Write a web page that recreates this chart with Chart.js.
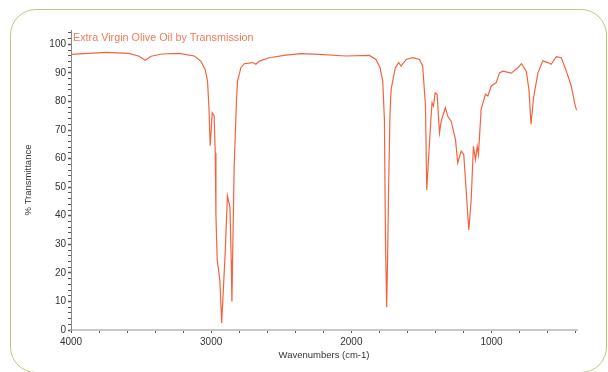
<!DOCTYPE html>
<html>
<head>
<meta charset="utf-8">
<script src="https://cdn.jsdelivr.net/npm/chart.js@4.4.1/dist/chart.umd.min.js"></script>
<style>
  html, body { margin: 0; padding: 0; background: #fff; }
  #wrap { position: relative; width: 608px; height: 372px; overflow: hidden; }
  #frame { position: absolute; left: 10px; top: 9px; width: 597px; height: 364px;
           border: 1.5px solid #bcc97f; border-radius: 26px; box-sizing: border-box; }
  canvas { position: absolute; left: 0; top: 0; }
</style>
</head>
<body>
<div id="wrap">
  <div id="frame"></div>
  <canvas id="ir" width="608" height="372"></canvas>
</div>
<script>
// spectrum
var wavenumbers = [4000, 3750, 3586, 3514, 3471, 3429, 3350, 3229, 3121, 3074, 3043, 3026, 3016, 3007, 3000, 2993, 2979, 2971, 2966, 2957, 2938, 2925, 2900, 2884, 2866, 2857, 2852, 2848, 2836, 2819, 2812, 2788, 2764, 2705, 2681, 2657, 2586, 2467, 2359, 2229, 2038, 1871, 1824, 1795, 1776, 1764, 1757, 1748, 1741, 1734, 1724, 1716, 1705, 1686, 1662, 1645, 1609, 1562, 1514, 1491, 1471, 1462, 1448, 1431, 1424, 1414, 1402, 1388, 1371, 1359, 1329, 1312, 1288, 1257, 1241, 1216, 1198, 1181, 1162, 1145, 1129, 1114, 1102, 1093, 1074, 1043, 1026, 1002, 966, 943, 919, 859, 812, 786, 752, 733, 718, 700, 669, 633, 598, 574, 538, 502, 466, 431, 407, 395, 390];
var transmittance = [96.5, 97.2, 96.8, 95.8, 94.4, 95.8, 96.6, 96.8, 95.9, 94.1, 91.2, 87.1, 78, 64.5, 70, 76, 75, 62, 40, 24.5, 17.5, 2.5, 27, 47, 43, 24.6, 10, 22, 57, 80.7, 87, 91.8, 93.2, 93.6, 93, 94.1, 95.3, 96.2, 96.7, 96.5, 95.9, 96.1, 94.7, 91.8, 87.1, 73.7, 34, 8, 25.7, 50.3, 76, 84.2, 87.1, 91.8, 93.6, 92.4, 94.7, 95.3, 94.7, 92.4, 78.4, 49, 60.8, 74.8, 79.5, 78.4, 83, 82.5, 69, 73.1, 77.8, 74.8, 73.1, 66.7, 58.5, 62.6, 61.4, 49.1, 35, 45.6, 64.3, 59.6, 64.3, 61.4, 77.2, 82.5, 81.9, 85.4, 86.6, 90, 90.6, 89.9, 91.8, 93.2, 90.6, 84.2, 72, 81.3, 90, 94.2, 93.6, 93, 95.7, 95.3, 90.6, 85.4, 79.5, 77.2, 77];

var xLabels = [4000, 3000, 2000, 1000];
var yLabels = [0, 10, 20, 30, 40, 50, 60, 70, 80, 90, 100];

var chartTitle = 'Extra Virgin Olive Oil by Transmission';

var points = wavenumbers.map(function(w, i){ return {x: w, y: transmittance[i]}; });

// small ticks every 200 cm-1 and every 2 %T
var xMinor = [];
for (var v = 400; v <= 4000; v += 200) xMinor.push(v);
var yMinor = [];
for (var t = 0; t <= 104; t += 2) yMinor.push(t);

Chart.defaults.font.family = '"Liberation Sans", Arial, sans-serif';
Chart.defaults.color = '#444';

var titlePlugin = {
    id: 'innerTitle',
    afterDraw: function(chart){
        var ctx = chart.ctx;
        ctx.save();
        ctx.font = '10.8px "Liberation Sans", Arial, sans-serif';
        ctx.fillStyle = '#f47a5c';
        ctx.textBaseline = 'middle';
        ctx.fillText(chartTitle, chart.chartArea.left + 2, 38);
        ctx.restore();
    }
};

new Chart(document.getElementById('ir'), {
    type: 'line',
    data: {
        datasets: [{
            data: points,
            borderColor: '#f2643f',
            borderWidth: 1.2,
            pointRadius: 0,
            tension: 0,
            fill: false
        }]
    },
    options: {
        responsive: false,
        animation: false,
        devicePixelRatio: 1,
        layout: { padding: { top: 30, right: 31, left: 0, bottom: 0 } },
        plugins: { legend: { display: false }, tooltip: { enabled: false } },
        scales: {
            x: {
                type: 'linear',
                reverse: true,
                min: 390,
                max: 4000,
                afterFit: function(s){ s.height = 42; },
                afterBuildTicks: function(s){ s.ticks = xMinor.map(function(v){ return {value: v}; }); },
                ticks: {
                    autoSkip: false,
                    maxRotation: 0,
                    padding: 3,
                    font: { size: 10 },
                    color: '#333',
                    callback: function(v){ return xLabels.indexOf(v) >= 0 ? String(v) : ''; }
                },
                grid: {
                    drawOnChartArea: false,
                    tickLength: 3,
                    tickColor: '#555',
                    tickWidth: 1
                },
                border: { display: true, color: '#c8c8c8', width: 2 },
                title: {
                    display: true,
                    text: 'Wavenumbers (cm-1)',
                    font: { size: 9.5 },
                    color: '#333',
                    padding: { top: 0, bottom: 11 }
                }
            },
            y: {
                min: 0,
                max: 105,
                afterFit: function(s){ s.width = 71; },
                afterBuildTicks: function(s){ s.ticks = yMinor.map(function(v){ return {value: v}; }); },
                ticks: {
                    autoSkip: false,
                    padding: 2,
                    font: { size: 10 },
                    color: '#333',
                    callback: function(v){ return yLabels.indexOf(v) >= 0 ? String(v) : ''; }
                },
                grid: {
                    drawOnChartArea: false,
                    tickLength: 3,
                    tickColor: '#555',
                    tickWidth: function(c){ return c.tick && c.tick.value % 10 === 0 ? 1.5 : 1; }
                },
                border: { display: true, color: '#888', width: 1, dash: [1, 1] },
                title: {
                    display: true,
                    text: '% Transmittance',
                    font: { size: 9.5 },
                    color: '#333',
                    padding: { top: 23, bottom: 0 }
                }
            }
        }
    },
    plugins: [titlePlugin]
});
</script>
</body>
</html>
